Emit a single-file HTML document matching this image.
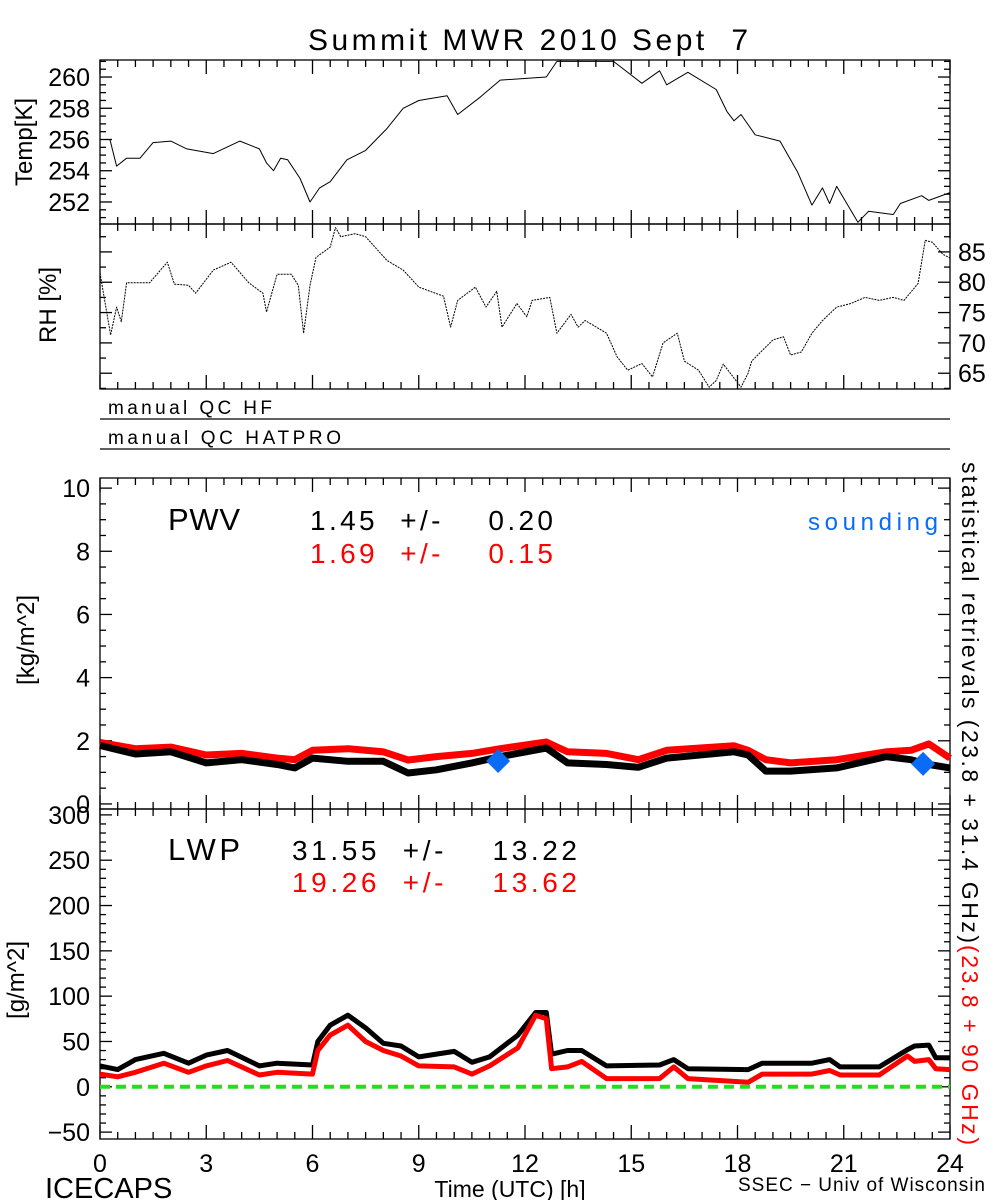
<!DOCTYPE html>
<html><head><meta charset="utf-8"><style>
html,body{margin:0;padding:0;background:#fff}
svg{display:block}
text{font-family:"Liberation Sans",sans-serif;white-space:pre}
</style></head><body>
<svg id="chart" width="1000" height="1200" viewBox="0 0 1000 1200" xmlns="http://www.w3.org/2000/svg">
<text x="308" y="50" font-size="30" textLength="440" lengthAdjust="spacing">Summit MWR 2010 Sept  7</text>
<g id="g"></g>
</svg>
<script>
const tempHours=[0,0.28,0.47,0.75,1.13,1.5,2.0,2.45,3.2,3.95,4.5,4.7,4.9,5.1,5.3,5.65,5.93,6.2,6.5,6.97,7.5,8.1,8.56,9.0,9.8,10.1,10.73,11.3,12.6,12.9,14.5,15.3,15.8,16.0,16.6,17.4,17.7,17.9,18.1,18.5,19.2,19.7,20.1,20.4,20.6,20.8,21.4,21.7,22.4,22.6,23.2,23.4,24];
const tempVals=[256.0,256.0,254.3,254.8,254.8,255.8,255.9,255.4,255.1,255.9,255.4,254.5,254.0,254.8,254.7,253.5,252.0,252.9,253.3,254.7,255.3,256.7,258.0,258.5,258.8,257.6,258.7,259.8,260.0,261.0,261.0,259.6,260.4,259.5,260.3,259.2,257.8,257.2,257.6,256.3,255.9,253.9,251.8,252.9,251.9,253.0,250.7,251.4,251.2,251.9,252.4,252.1,252.6];
const rhHours=[0,0.3,0.47,0.6,0.75,1.4,1.9,2.1,2.5,2.7,3.2,3.7,4.2,4.6,4.7,5.0,5.4,5.6,5.75,5.93,6.1,6.5,6.65,6.8,7.2,7.5,8.1,8.56,9.0,9.7,9.9,10.1,10.6,10.9,11.2,11.35,11.77,12.05,12.2,12.7,12.9,13.3,13.5,13.7,14.3,14.6,14.9,15.3,15.6,15.9,16.3,16.5,16.9,17.2,17.4,17.6,18.1,18.3,18.4,19.0,19.3,19.5,19.8,20.1,20.4,20.8,21.2,21.6,22.0,22.4,22.7,23.1,23.3,23.5,23.8,24];
const rhVals=[81.5,71.3,75.9,73.5,79.9,79.9,83.3,79.7,79.5,78.2,82.0,83.3,79.9,78.2,75.1,81.3,81.3,79.5,71.6,79.5,84.1,85.8,89.0,87.5,88.0,87.5,83.6,82.0,79.2,77.7,72.6,77.0,79.2,75.9,78.5,72.6,76.5,74.3,77.0,77.5,71.6,74.7,72.6,73.7,71.6,67.7,65.5,66.6,64.4,70.0,71.6,67.0,65.5,62.7,63.8,66.5,62.7,65.0,67.0,70.5,71.0,68.0,68.5,71.6,73.7,75.9,76.5,77.5,77.0,77.5,77.0,79.8,86.9,86.6,84.6,84.0];
const pwvHours=[0,1,2,3,4,5,5.5,6,7,8,8.7,9.5,10.5,11.3,12.6,13.2,14.3,15.2,16,17.9,18.3,18.8,19.5,20.8,22.2,22.9,23.4,24];
const pwvBlack=[1.85,1.58,1.65,1.3,1.4,1.25,1.14,1.45,1.35,1.35,0.98,1.08,1.3,1.5,1.77,1.3,1.25,1.16,1.45,1.65,1.55,1.04,1.04,1.14,1.5,1.4,1.25,1.14];
const pwvRed=[1.95,1.75,1.8,1.55,1.6,1.45,1.4,1.7,1.75,1.65,1.39,1.5,1.6,1.75,1.96,1.65,1.6,1.4,1.7,1.84,1.7,1.4,1.3,1.4,1.65,1.7,1.9,1.45];
const sondeHours=[11.24,23.24];
const sondeVals=[1.36,1.27];
const lwpHours=[0,0.5,1,1.8,2.5,3,3.6,4.5,5,6,6.15,6.5,7,7.5,8,8.5,9,10,10.5,11,11.8,12.3,12.6,12.75,13.2,13.6,14.3,15.8,16.2,16.6,18.3,18.7,20.1,20.6,20.9,22,22.8,23.0,23.4,23.6,24];
const lwpBlack=[23,19,30,37,26,35,40,23,26,24,50,68,79,65,48,45,33,39,27,33,57,82,82,36,40,40,23,24,30,20,19,26,26,30,22,22,41,45,46,32,32];
const lwpRed=[14,11,16,26,16,23,29,13,16,14,40,57,68,50,40,34,23,22,14,23,43,79,75,20,22,28,9,9,22,9,5,14,14,18,13,13,34,28,30,20,19];
const xTicks=[0,3,6,9,12,15,18,21,24];
const tempTicks=[252,254,256,258,260];
const rhTicks=[65,70,75,80,85];
const pwvTicks=[0,2,4,6,8,10];
const lwpTicks=[-50,0,50,100,150,200,250,300];

const NS='http://www.w3.org/2000/svg';
const G=document.getElementById('g');
const X0=100,X1=950;
function xs(h){return X0+(X1-X0)*h/24;}
function mk(tag,at,parent){const e=document.createElementNS(NS,tag);for(const k in at)e.setAttribute(k,at[k]);(parent||G).appendChild(e);return e;}
function ysFn(top,bot,vmax,vmin){return v=>top+(vmax-v)/(vmax-vmin)*(bot-top);}
const panels={
 temp:{top:60,bot:224,max:261.09,min:250.59},
 rh:{top:224,bot:389,max:89.6,min:62.4},
 pwv:{top:478,bot:809,max:10.32,min:-0.16},
 lwp:{top:809,bot:1139,max:306.5,min:-57.6}
};
for(const k in panels){const p=panels[k];p.y=ysFn(p.top,p.bot,p.max,p.min);}

function frame(name,p,minorY,majorY){
 const r=mk('rect',{x:X0,y:p.top,width:X1-X0,height:p.bot-p.top,fill:'none',stroke:'#000','stroke-width':1.3});
 
 
 for(let h=0;h<=24;h+=0.5){const big=(h%3===0);const L=big?14:7;const x=xs(h);
  mk('line',{x1:x,x2:x,y1:p.bot,y2:p.bot-L,stroke:'#000','stroke-width':1.3});
  mk('line',{x1:x,x2:x,y1:p.top,y2:p.top+L,stroke:'#000','stroke-width':1.3});}
 for(let v=Math.ceil(p.min/minorY)*minorY;v<=p.max;v+=minorY){const y=p.y(v);const big=Math.abs(v/majorY-Math.round(v/majorY))<1e-6;const L=big?12:6;
  mk('line',{x1:X0,x2:X0+L,y1:y,y2:y,stroke:'#000','stroke-width':1.3});
  mk('line',{x1:X1,x2:X1-L,y1:y,y2:y,stroke:'#000','stroke-width':1.3});}
}
function series(name,hours,vals,p,color,w,dash){
 const d=hours.map((h,i)=>(i?'L':'M')+xs(h).toFixed(1)+','+p.y(vals[i]).toFixed(1)).join('');
 const at={d:d,fill:'none',stroke:color,'stroke-width':w,'stroke-linejoin':'round'};
 if(dash)at['stroke-dasharray']=dash;
 const e=mk('path',at);
 
 
}
function label(name,txt,x,y,size,anchor,color,rot,len){
 const at={x:x,y:y,'font-size':size,'text-anchor':anchor||'start',fill:color||'#000'};
 if(rot)at.transform='rotate('+rot+' '+x+' '+y+')';
 if(len){at.textLength=len;at.lengthAdjust='spacing';}
 const e=mk('text',at);e.textContent=txt;
 
 
 return e;
}

frame('temp-panel',panels.temp,0.5,2);
tempTicks.forEach(v=>label('temp-tick-label',String(v),90,panels.temp.y(v)+9,25,'end'));
label('temp-y-axis-title','Temp[K]',32,142,24,'middle','#000',-90);
series('temp-line',tempHours,tempVals,panels.temp,'#000',1);

frame('rh-panel',panels.rh,2.5,5);
rhTicks.forEach(v=>label('rh-tick-label',String(v),958,panels.rh.y(v)+9,25,'start'));
label('rh-y-axis-title','RH [%]',56,305,24,'middle','#000',-90);
series('rh-line',rhHours,rhVals,panels.rh,'#000',1,'2,1');

label('qc-hf-label','manual QC HF',108,414,19,'start','#000',0,164);
mk('line',{x1:X0,x2:X1,y1:419,y2:419,stroke:'#000','stroke-width':1.3});
label('qc-hatpro-label','manual QC HATPRO',108,444,19,'start','#000',0,233);
mk('line',{x1:X0,x2:X1,y1:449,y2:449,stroke:'#000','stroke-width':1.3});

frame('pwv-panel',panels.pwv,0.5,2);
pwvTicks.forEach(v=>label('pwv-tick-label',String(v),90,panels.pwv.y(v)+9,25,'end'));
label('pwv-y-axis-title','[kg/m^2]',34,640,24,'middle','#000',-90);
series('pwv-red-line',pwvHours,pwvRed,panels.pwv,'#ff0000',7);
series('pwv-black-line',pwvHours,pwvBlack,panels.pwv,'#000',7);
sondeHours.forEach((h,i)=>{const x=xs(h),y=panels.pwv.y(sondeVals[i]);
 const e=mk('polygon',{points:(x-12)+','+y+' '+x+','+(y-12)+' '+(x+12)+','+y+' '+x+','+(y+12),fill:'#0a6cf5'});
 
 });
label('pwv-label','PWV',168,530,31,'start','#000',0,72);
label('pwv-stat-black','1.45  +/-    0.20',310,530,28,'start','#000',0,243);
label('pwv-stat-red','1.69  +/-    0.15',310,563,28,'start','#ff0000',0,243);
label('sounding-legend','sounding',808,530,24,'start','#0a6cf5',0,130);

frame('lwp-panel',panels.lwp,10,50);
lwpTicks.forEach(v=>label('lwp-tick-label',(v<0?'\u2212':'')+Math.abs(v),90,panels.lwp.y(v)+9,25,'end'));
label('lwp-y-axis-title','[g/m^2]',24,980,24,'middle','#000',-90);
mk('line',{x1:X0,x2:X1,y1:panels.lwp.y(0),y2:panels.lwp.y(0),stroke:'#22dd22','stroke-width':4,'stroke-dasharray':'10,6'});
series('lwp-black-line',lwpHours,lwpBlack,panels.lwp,'#000',5);
series('lwp-red-line',lwpHours,lwpRed,panels.lwp,'#ff0000',5);
label('lwp-label','LWP',168,860,31,'start','#000',0,72);
label('lwp-stat-black','31.55  +/-    13.22',292,860,28,'start','#000',0,285);
label('lwp-stat-red','19.26  +/-    13.62',292,892,28,'start','#ff0000',0,285);

label('retrieval-annotation-black','statistical retrievals (23.8 + 31.4 GHz)',962,462,23,'start','#000',90,481);
label('retrieval-annotation-red','(23.8 + 90 GHz)',962,945,23,'start','#ff0000',90,200);

xTicks.forEach(h=>label('x-tick-label',String(h),xs(h),1172,25,'middle'));
label('x-axis-title','Time (UTC) [h]',510,1197,23,'middle');
label('icecaps-label','ICECAPS',45,1198,29,'start');
label('credit-label','SSEC \u2212 Univ of Wisconsin',738,1191,19,'start','#000',0,247);
</script>
</body></html>
